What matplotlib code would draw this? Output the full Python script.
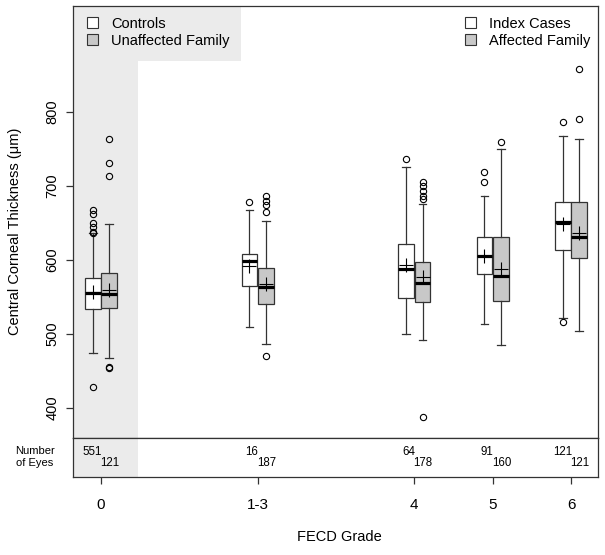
import matplotlib.pyplot as plt
from matplotlib.patches import Patch, Rectangle

plt.rcParams['font.family'] = ['Liberation Sans', 'DejaVu Sans']

grades = ['0', '1-3', '4', '5', '6']
xpos = [0, 2, 4, 5, 6]

# white boxes: Controls (grade 0) / Index Cases
a_q1 = [534, 565, 548, 581, 613]
a_med = [555, 599, 588, 606, 651]
a_q3 = [575, 608, 622, 631, 679]
a_lo = [475, 510, 500, 513, 521]
a_hi = [637, 668, 725, 686, 767]
a_mean = [557, 592, 593, 606, 649]
a_fliers = [[428, 636, 638, 645, 650, 662, 668], [679], [736], [705, 719], [516, 787]]
a_n = [551, 16, 64, 91, 121]

# grey boxes: Unaffected Family (grade 0) / Affected Family
b_q1 = [535, 541, 543, 545, 603]
b_med = [554, 564, 569, 578, 631]
b_q3 = [582, 589, 597, 631, 678]
b_lo = [468, 487, 492, 485, 504]
b_hi = [649, 653, 675, 750, 763]
b_mean = [560, 568, 577, 588, 637]
b_fliers = [[454, 456, 713, 731, 764], [470, 665, 674, 680, 686],
            [388, 683, 687, 693, 700, 705], [760], [791, 858]]
b_n = [121, 187, 178, 160, 121]

edge = '#333333'
grey = '#c8c8c8'
bg = '#ebebeb'
off = 0.105
w = 0.2


def stats(q1, med, q3, lo, hi, mean, fl):
    return [dict(q1=q1[i], med=med[i], q3=q3[i], whislo=lo[i], whishi=hi[i],
                 mean=mean[i], fliers=fl[i]) for i in range(len(q1))]


fig = plt.figure(figsize=(6.05, 5.55), dpi=100)
ax = fig.add_axes([0.1207, 0.2108, 0.8678, 0.7782])
ax2 = fig.add_axes([0.1207, 0.1405, 0.8678, 0.0703])

xmin, xmax = -0.357, 6.345
ymin, ymax = 359.5, 943

for a in (ax, ax2):
    a.axvspan(xmin, 0.47, color=bg, lw=0, zorder=0)
    a.set_xlim(xmin, xmax)
    for s in a.spines.values():
        s.set_color('#333333')
        s.set_linewidth(0.9)
ax.add_patch(Rectangle((xmin, 869), 1.79 - xmin, ymax - 869, color=bg, lw=0, zorder=0))

common = dict(widths=w, showmeans=True, patch_artist=True,
              whiskerprops=dict(color=edge, lw=0.9),
              capprops=dict(color=edge, lw=0.9),
              medianprops=dict(color='black', lw=2.3),
              meanprops=dict(marker='+', markersize=10, markeredgecolor='black',
                             markeredgewidth=0.8),
              flierprops=dict(marker='o', markersize=4.5, markerfacecolor='none',
                              markeredgecolor='black', markeredgewidth=0.8))

ax.bxp(stats(a_q1, a_med, a_q3, a_lo, a_hi, a_mean, a_fliers),
       positions=[p - off for p in xpos],
       boxprops=dict(facecolor='white', edgecolor=edge, lw=0.9), **common)
ax.bxp(stats(b_q1, b_med, b_q3, b_lo, b_hi, b_mean, b_fliers),
       positions=[p + off for p in xpos],
       boxprops=dict(facecolor=grey, edgecolor=edge, lw=0.9), **common)

ax.set_xlim(xmin, xmax)
ax.set_ylim(ymin, ymax)
ax.set_xticks([])
ax.set_yticks([400, 500, 600, 700, 800])
ax.set_yticklabels(['400', '500', '600', '700', '800'], rotation=90, va='center')
ax.tick_params(axis='y', length=5, width=0.9, color='#333333', pad=5, labelsize=10.5)

leg1 = ax.legend(handles=[Patch(facecolor='white', edgecolor=edge, lw=0.8, label='Controls'),
                          Patch(facecolor=grey, edgecolor=edge, lw=0.8, label='Unaffected Family')],
                 loc='upper left', bbox_to_anchor=(0.026, 0.975), frameon=False,
                 fontsize=10.5, handlelength=0.75, handleheight=0.75,
                 handletextpad=0.95, labelspacing=0.2, borderpad=0, borderaxespad=0)
ax.add_artist(leg1)
ax.legend(handles=[Patch(facecolor='white', edgecolor=edge, lw=0.8, label='Index Cases'),
                   Patch(facecolor=grey, edgecolor=edge, lw=0.8, label='Affected Family')],
          loc='upper left', bbox_to_anchor=(0.746, 0.975), frameon=False,
          fontsize=10.5, handlelength=0.75, handleheight=0.75,
          handletextpad=0.95, labelspacing=0.2, borderpad=0, borderaxespad=0)

ax2.set_ylim(0, 1)
ax2.set_yticks([])
ax2.set_xticks(xpos)
ax2.set_xticklabels(grades)
ax2.tick_params(axis='x', length=5, width=0.9, color='#333333', pad=10, labelsize=11)
for i, p in enumerate(xpos):
    ax2.text(p + 0.01, 0.64, str(a_n[i]), ha='right', va='center', fontsize=8.3)
    ax2.text(p - 0.01, 0.36, str(b_n[i]), ha='left', va='center', fontsize=8.3)

fig.text(35 / 605, 1 - 457 / 555, 'Number\nof Eyes', ha='center', va='center',
         fontsize=8, linespacing=1.25)
fig.text(15 / 605, 0.583, 'Central Corneal Thickness (\u03bcm)', rotation=90,
         ha='center', va='center', fontsize=10.5)
fig.text(0.5607, 1 - 537 / 555, 'FECD Grade', ha='center', va='center', fontsize=10.5)

fig.savefig('out.png', dpi=100)
